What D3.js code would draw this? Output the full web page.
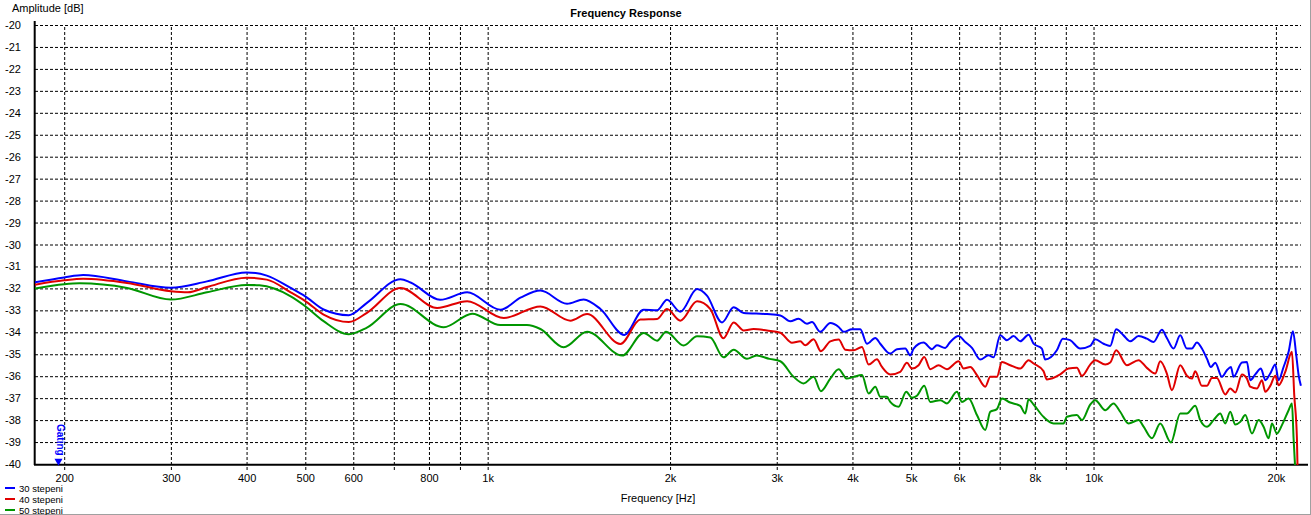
<!DOCTYPE html>
<html><head><meta charset="utf-8">
<script src="https://cdn.jsdelivr.net/npm/d3@7"></script>
<style>
html,body{margin:0;padding:0;background:#fff;}
svg{display:block;font-family:"Liberation Sans",Arial,sans-serif;}
</style></head><body>
<svg id="chart" width="1311" height="515"></svg>
<script>
// ---------- DATA ----------
const freq30 = [179,200,215,254,300,344,400,432,473,500,536,590,632,718,746,835,925,1049,1135,1222,1352,1440,1535,1681,1809,1904,1977,2080,2216,2301,2437,2547,2646,2891,
3041,3158,3261,3365,3430,3540,3677,3796,3868,3993,4121,4227,4363,4446,4618,4737,4890,4983,5047,5242,5411,5514,5691,5800,5987,6142,6300,6501,6711,6839,7015,7194,7379,7568,7812,7962,8216,8321,8698,8898,9149,9506,9874,10064,10387,10654,10899,11207,11495,11866,12246,12560,12965,13213,13552,
13903,14259,14533,14810,15096,15385,15620,15880,16290,16600,16855,17027,17578,17913,18142,18491,18892,19208,19573,19950,20204,20590,20988,21335,21607,21802,21993];
const db30 = [-31.72,-31.5,-31.39,-31.68,-31.97,-31.68,-31.27,-31.42,-31.98,-32.36,-32.96,-33.22,-32.66,-31.58,-31.73,-32.52,-32.18,-32.97,-32.41,-32.1,-32.7,-32.5,-32.94,-34.12,-32.97,-33.0,-32.52,-33.06,-32.03,-32.33,-33.55,-32.86,-33.12,-33.17,
-33.23,-33.5,-33.38,-33.61,-33.53,-33.98,-33.58,-33.76,-33.98,-33.86,-33.86,-34.52,-34.26,-34.52,-34.97,-34.77,-34.74,-35.05,-34.74,-34.47,-34.77,-34.59,-34.71,-34.44,-34.17,-34.44,-34.71,-35.24,-35.05,-35.14,-34.14,-34.36,-34.17,-34.41,-34.11,-34.52,-34.74,-35.24,-34.82,-34.29,-34.36,-34.74,-34.62,-34.32,-34.52,-34.62,-33.86,-34.14,-34.41,-34.17,-34.29,-34.44,-33.88,-34.26,-34.74,
-34.14,-34.74,-34.74,-34.47,-34.74,-35.2,-35.58,-35.39,-36.03,-35.73,-35.58,-36.03,-35.38,-35.35,-36.18,-35.92,-35.65,-36.18,-35.88,-35.47,-36.18,-35.58,-34.89,-33.95,-35.05,-35.95,-36.44];

const freq40 = [179,200,215,254,300,320,344,400,432,473,500,536,590,632,718,825,925,1063,1222,1369,1459,1656,1786,1904,1977,2080,2216,2331,2450,2547,2646,2748,2891,
3041,3179,3281,3344,3451,3548,3677,3796,3893,4018,4147,4254,4390,4475,4618,4797,4920,5015,5144,5255,5376,5549,5728,5987,6103,6259,6420,6627,6753,6926,7060,7286,7568,7812,7962,8268,8375,8810,9093,9386,9568,9874,10064,10454,10654,10899,11350,11866,12246,12641,12885,13213,13468,13903,
14259,14533,14718,15096,15385,15680,15980,16497,16812,17137,17578,17913,18142,18607,18966,19208,19573,19950,20204,20723,21256,21443,21662,21717];
const db40 = [-31.83,-31.63,-31.56,-31.75,-32.13,-32.18,-31.94,-31.51,-31.6,-32.18,-32.58,-33.19,-33.53,-33.11,-31.98,-32.89,-32.58,-33.35,-32.82,-33.47,-33.17,-34.53,-33.42,-33.39,-32.94,-33.47,-32.59,-32.94,-34.27,-33.55,-33.92,-33.85,-33.92,
-34.02,-34.48,-34.41,-34.59,-34.32,-34.86,-34.41,-34.33,-34.79,-34.82,-34.67,-35.47,-35.23,-35.58,-35.92,-35.8,-35.39,-35.65,-35.5,-35.12,-35.68,-35.5,-35.68,-35.32,-35.65,-35.58,-35.95,-36.48,-36.03,-36.03,-35.35,-35.5,-35.65,-35.27,-35.42,-35.77,-36.15,-35.92,-35.65,-35.62,-35.98,-35.47,-35.27,-35.47,-35.38,-34.82,-35.5,-35.27,-35.62,-35.88,-35.32,-35.88,-36.64,-35.5,
-35.98,-36.11,-35.77,-36.44,-36.44,-36.08,-36.08,-36.83,-36.56,-36.74,-35.92,-36.11,-36.48,-36.56,-36.18,-36.71,-36.44,-35.98,-36.41,-35.8,-34.89,-36.86,-38.83,-40.3];

const freq50 = [179,200,212,254,300,344,400,420,473,500,536,590,632,718,846,943,1049,1161,1222,1335,1459,1667,1809,1904,1970,2106,2216,2331,2450,2547,2679,2780,2918,
3041,3199,3323,3451,3548,3677,3796,3917,4018,4147,4254,4363,4446,4560,4618,4767,4907,5015,5111,5255,5376,5585,5728,5950,6065,6220,6420,6627,6753,6926,7060,7286,7568,7714,7812,7962,8268,8590,8923,9036,9386,9568,9874,10064,10454,10789,11066,11422,11866,12095,12483,12885,13418,13903,
14259,14718,15000,15385,15780,16185,16497,16812,17137,17465,17802,18259,18727,19084,19452,19700,20075,20462,20988,21256,21388,21528];
const db50 = [-32.01,-31.81,-31.77,-31.98,-32.51,-32.18,-31.84,-31.86,-32.36,-32.81,-33.49,-34.09,-33.79,-32.71,-33.77,-33.15,-33.67,-33.67,-33.85,-34.68,-33.97,-35.06,-34.03,-34.38,-33.97,-34.6,-34.18,-34.24,-35.14,-34.79,-35.21,-35.06,-35.21,
-35.32,-36.03,-36.33,-36.03,-36.68,-36.11,-35.68,-36.11,-36.03,-35.95,-36.79,-36.48,-36.94,-36.94,-37.17,-37.39,-36.71,-36.98,-36.89,-36.44,-37.17,-37.09,-37.24,-36.71,-37.17,-37.02,-37.77,-38.45,-37.62,-37.5,-37.02,-37.2,-37.35,-37.7,-37.05,-37.29,-37.85,-38.15,-38.15,-37.85,-37.77,-38.0,-37.29,-37.09,-37.55,-37.24,-37.62,-38.15,-38.0,-38.3,-38.83,-38.15,-39.02,-37.7,
-37.7,-37.35,-38.0,-38.3,-38.0,-37.7,-38.15,-37.62,-38.2,-38.08,-37.77,-38.61,-38.0,-38.3,-38.83,-38.15,-38.61,-38.23,-37.55,-37.24,-38.83,-40.3];

const seriesNames = ["30 stepeni", "40 stepeni", "50 stepeni"];
const seriesColors = ["#0000ff", "#e00000", "#009600"];
const xGridTicks = [200,300,400,500,600,700,800,900,1000,2000,3000,4000,5000,6000,7000,8000,9000,10000,20000];
const xLabelTicks = [200,300,400,500,600,800,1000,2000,3000,4000,5000,6000,8000,10000,20000];
const xLabelTexts = ["200","300","400","500","600","800","1k","2k","3k","4k","5k","6k","8k","10k","20k"];
const yTicks = [-20,-21,-22,-23,-24,-25,-26,-27,-28,-29,-30,-31,-32,-33,-34,-35,-36,-37,-38,-39,-40];

// ---------- CHART ----------
const svg = d3.select("#chart");
const L = 35, R = 1301, T = 25, B = 464;
const x = d3.scaleLog().domain([179, 22000]).range([L, R]);
const y = d3.scaleLinear().domain([-40, -20]).range([B, T]);

// y grid + labels
svg.append("g").attr("transform", `translate(${L},0)`)
  .call(d3.axisLeft(y).tickValues(yTicks).tickSize(-(R - L)).tickPadding(14).tickFormat(d => String(d)))
  .call(g => g.select(".domain").remove())
  .call(g => g.selectAll(".tick line").attr("stroke", "#000").attr("stroke-dasharray", "3,2"))
  .call(g => g.selectAll(".tick text").attr("font-size", 11).attr("fill", "#000")
      .attr("font-family", '"Liberation Sans",Arial,sans-serif'));

// x grid + labels
const labelMap = new Map(xLabelTicks.map((v, i) => [v, xLabelTexts[i]]));
svg.append("g").attr("transform", `translate(0,${B + 6})`)
  .call(d3.axisBottom(x).tickValues(xGridTicks).tickSize(-(B + 6 - T)).tickPadding(4)
      .tickFormat(d => labelMap.get(d) || ""))
  .call(g => g.select(".domain").remove())
  .call(g => g.selectAll(".tick line").attr("stroke", "#000").attr("stroke-dasharray", "3,2"))
  .call(g => g.selectAll(".tick text").attr("font-size", 11).attr("fill", "#000")
      .attr("font-family", '"Liberation Sans",Arial,sans-serif'));

// axis lines
svg.append("line").attr("x1", L - 0.3).attr("x2", L - 0.3).attr("y1", 21).attr("y2", B + 1)
  .attr("stroke", "#000").attr("stroke-width", 2);
svg.append("line").attr("x1", L - 1).attr("x2", 1308).attr("y1", B + 0.7).attr("y2", B + 0.7)
  .attr("stroke", "#000").attr("stroke-width", 2);

// window borders
svg.append("line").attr("x1", 1310.5).attr("x2", 1310.5).attr("y1", 0).attr("y2", 515).attr("stroke", "#a0a0a0");
svg.append("line").attr("x1", 0).attr("x2", 1311).attr("y1", 514.5).attr("y2", 514.5).attr("stroke", "#a0a0a0");

// clip
svg.append("clipPath").attr("id", "clip").append("rect")
  .attr("x", L).attr("y", T - 2).attr("width", R - L + 2).attr("height", B - T + 3);

const line = d3.line().x(d => x(d[0])).y(d => y(d[1])).curve(d3.curveMonotoneX);
const series = [
  d3.zip(freq30, db30),
  d3.zip(freq40, db40),
  d3.zip(freq50, db50)
];
const gLines = svg.append("g").attr("clip-path", "url(#clip)");
series.forEach((s, i) => {
  gLines.append("path").datum(s).attr("d", line).attr("fill", "none")
    .attr("stroke", seriesColors[i]).attr("stroke-width", 2).attr("stroke-linejoin", "round");
});

// titles
svg.append("text").attr("x", 626).attr("y", 16.5).attr("text-anchor", "middle")
  .attr("font-size", 11).attr("font-weight", "bold").attr("fill", "#000").text("Frequency Response");
svg.append("text").attr("x", 12).attr("y", 11.5).attr("font-size", 11).attr("fill", "#000").text("Amplitude [dB]");
svg.append("text").attr("x", 658).attr("y", 501.5).attr("text-anchor", "middle")
  .attr("font-size", 11).attr("fill", "#000").text("Frequency [Hz]");

// gating marker
svg.append("path").attr("d", d3.symbol().type(d3.symbolTriangle).size(28)())
  .attr("transform", `translate(58.5,461) rotate(180)`).attr("fill", "#0000ff");
svg.append("text").attr("transform", "translate(56.5,424) rotate(90)")
  .attr("font-size", 10).attr("font-weight", "bold").attr("fill", "#0000ff").text("Gating");

// legend
seriesNames.forEach((n, i) => {
  const yy = 488 + i * 11;
  svg.append("line").attr("x1", 5).attr("x2", 15).attr("y1", yy).attr("y2", yy)
    .attr("stroke", seriesColors[i]).attr("stroke-width", 2);
  svg.append("text").attr("x", 19).attr("y", yy + 3.5).attr("font-size", 9.5).attr("fill", "#000").text(n);
});
</script>
</body></html>
